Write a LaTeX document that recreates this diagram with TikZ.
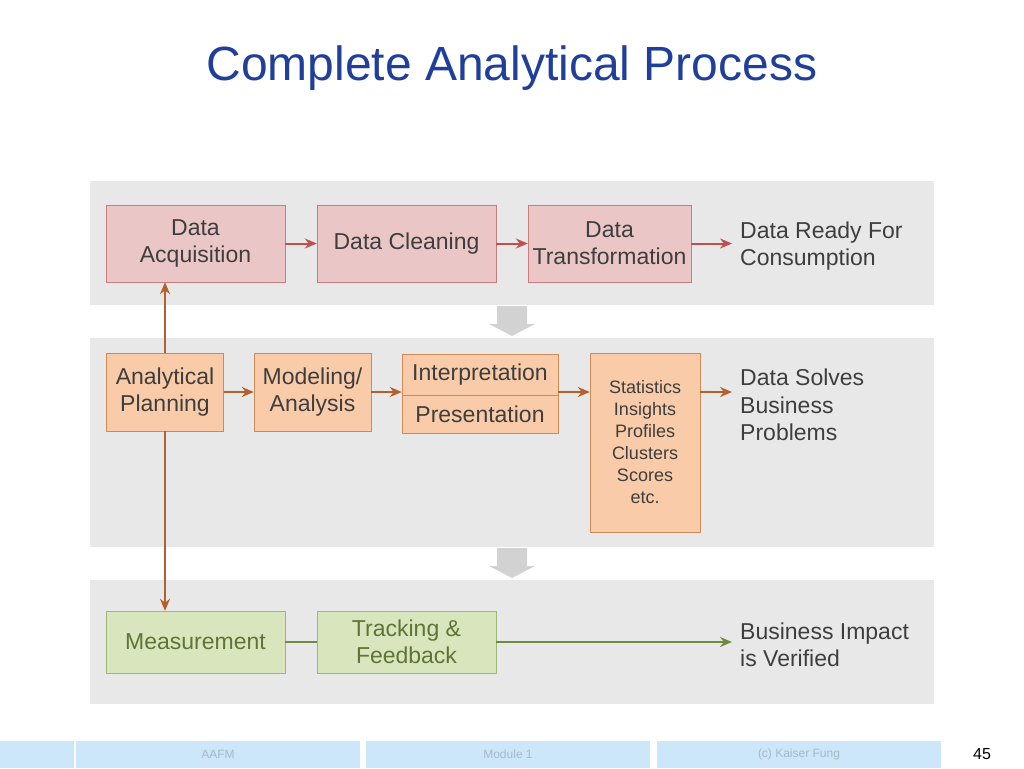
\documentclass[tikz,border=0pt]{standalone}
\usepackage{fontspec}
\setmainfont{Liberation Sans}
\usetikzlibrary{positioning,arrows.meta}
\definecolor{titleblue}{HTML}{1F3F9A}
\definecolor{panelgray}{HTML}{E8E8E8}
\definecolor{redfill}{HTML}{EBC6C6}
\definecolor{redline}{HTML}{C77D7D}
\definecolor{redarrow}{HTML}{C0504D}
\definecolor{orfill}{HTML}{F9CBA8}
\definecolor{orline}{HTML}{D08A55}
\definecolor{orarrow}{HTML}{B5602A}
\definecolor{grfill}{HTML}{D9E5BD}
\definecolor{grline}{HTML}{A0B578}
\definecolor{grarrow}{HTML}{6E8A3C}
\definecolor{grtext}{HTML}{5F7436}
\definecolor{boxtext}{HTML}{3E3E3E}
\definecolor{footblue}{HTML}{CCE6FA}
\definecolor{foottext}{HTML}{A8B8C8}
\tikzset{
  boxfont/.style={font=\fontsize{23}{27}\selectfont},
  redbox/.style={draw=redline, fill=redfill, text=boxtext, align=center, boxfont, inner sep=0pt},
  orbox/.style={draw=orline, fill=orfill, text=boxtext, align=center, boxfont, inner sep=0pt},
  grbox/.style={draw=grline, fill=grfill, text=grtext, align=center, boxfont, inner sep=0pt},
  outtext/.style={anchor=west, align=left, text=boxtext, inner sep=0pt, font=\fontsize{23}{27.5}\selectfont},
  flow/.style={-{Stealth[length=12pt,width=10pt]}, line width=2pt},
  foot/.style={fill=footblue, minimum width=284pt, minimum height=27pt, inner sep=0pt, text=foottext, font=\fontsize{12}{14}\selectfont}
}
\begin{document}
\begin{tikzpicture}[x=1pt,y=-1pt]
  \useasboundingbox[fill=white] (0,0) rectangle (1024,768);

  % title
  \node[text=titleblue, font=\fontsize{48}{54}\selectfont] (title) at (512,68) {Complete Analytical Process};

  % panels
  \fill[panelgray] (90,181) rectangle (934,305);
  \fill[panelgray] (90,338) rectangle (934,547);
  \fill[panelgray] (90,580) rectangle (934,704);

  % chevrons
  \fill[gray!35] (497,306) -- (527,306) -- (527,324) -- (535,324) -- (512,336) -- (489,324) -- (497,324) -- cycle;
  \fill[gray!35] (497,548) -- (527,548) -- (527,566) -- (535,566) -- (512,578) -- (489,566) -- (497,566) -- cycle;

  % row 1
  \node[redbox, minimum width=179pt, minimum height=77pt] (acq) at (195.5,243.5) {Data\\Acquisition};
  \node[redbox, minimum width=179pt, minimum height=77pt] (clean) at (406.5,243.5) {Data Cleaning};
  \node[redbox, minimum width=163pt, minimum height=77pt] (trans) at (609.5,243.5) {Data\\Transformation};
  \node[outtext] (ready) at (740,246) {Data Ready For\\Consumption};
  \draw[flow, redarrow] (acq) -- (clean);
  \draw[flow, redarrow] (clean) -- (trans);
  \draw[flow, redarrow] (trans) -- ([xshift=-8pt]ready.west|-trans);

  % row 2
  \node[orbox, minimum width=117pt, minimum height=78pt] (plan) at (165,392) {Analytical\\Planning};
  \node[orbox, minimum width=117pt, minimum height=78pt] (model) at (312.5,392) {Modeling/\\Analysis};
  \node[orbox, minimum width=156pt, minimum height=41pt] (interp) at (480,374.5) {Interpretation};
  \node[orbox, minimum width=156pt, minimum height=38pt, below=0pt of interp] (pres) {Presentation};
  \node[orbox, minimum width=110pt, minimum height=179pt, font=\fontsize{18}{22}\selectfont] (stats) at (645,442.5) {Statistics\\Insights\\Profiles\\Clusters\\Scores\\etc.};
  \node[outtext] (solves) at (740,405) {Data Solves\\Business\\Problems};
  \draw[flow, orarrow] (plan) -- (model);
  \draw[flow, orarrow] (model) -- (model-|pres.west);
  \draw[flow, orarrow] (model-|pres.east) -- (model-|stats.west);
  \draw[flow, orarrow] (model-|stats.east) -- ([xshift=-8pt]model-|solves.west);
  \draw[flow, orarrow] (plan.north) -- (acq.south-|plan.north);

  % row 3
  \node[grbox, minimum width=179pt, minimum height=62pt] (meas) at (195.5,642) {Measurement};
  \node[grbox, minimum width=179pt, minimum height=62pt] (track) at (406.5,642) {Tracking \&\\Feedback};
  \node[outtext] (impact) at (740,645) {Business Impact\\is Verified};
  \draw[line width=2pt, grarrow] (meas) -- (track);
  \draw[flow, grarrow] (track) -- ([xshift=-8pt]impact.west|-track);
  \draw[flow, orarrow] (plan.south) -- (plan.south|-meas.north);

  % footer
  \fill[footblue] (0,741) rectangle (74,768);
  \node[foot] (f1) at (218,754.5) {AAFM};
  \node[foot] (f2) at (508,754.5) {Module 1};
  \node[foot] (f3) at (799,754.5) {(c) Kaiser Fung};
  \node[font=\fontsize{16}{18}\selectfont] (page) at (982,754) {45};
\end{tikzpicture}
\end{document}
